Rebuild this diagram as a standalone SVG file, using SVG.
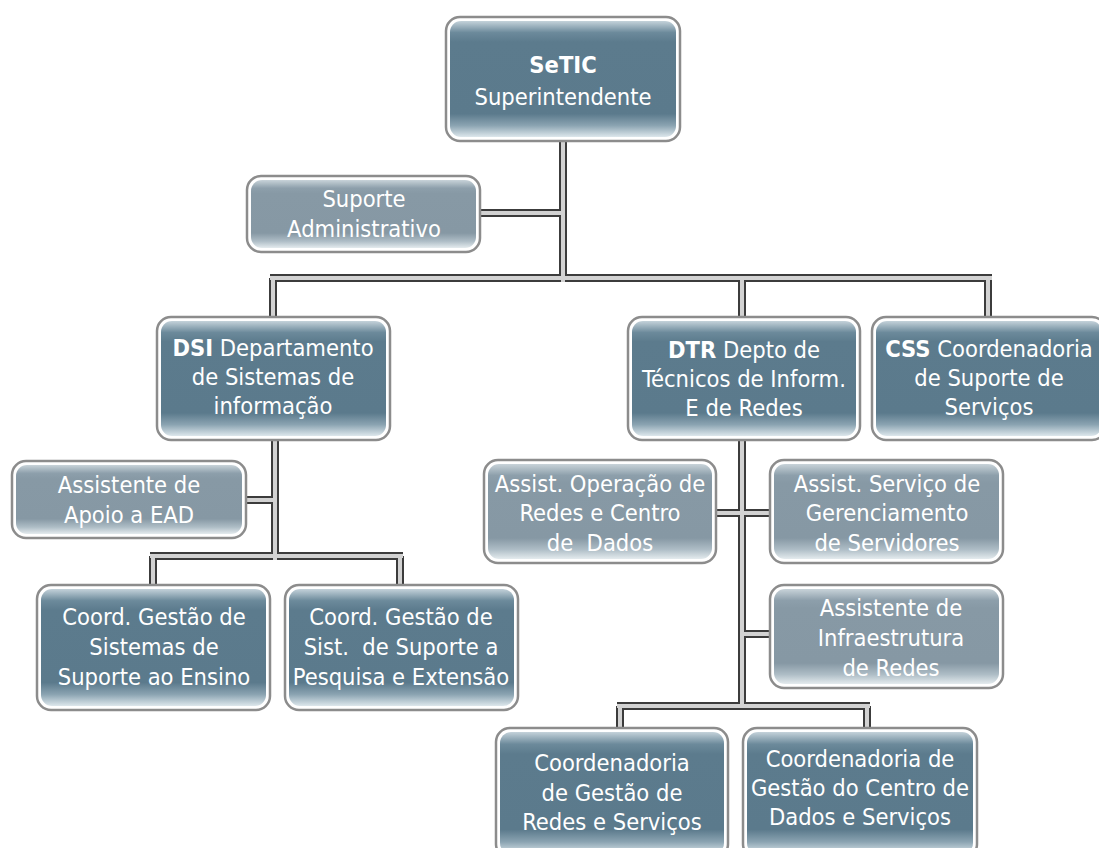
<svg xmlns="http://www.w3.org/2000/svg" width="1099" height="848" viewBox="0 0 1099 848">
<defs>
<linearGradient id="gDark" x1="0" y1="0" x2="0" y2="1">
<stop offset="0" stop-color="#c4d2da"/>
<stop offset="0.1" stop-color="#6c8a9b"/>
<stop offset="0.18" stop-color="#5c7b8d"/>
<stop offset="0.8" stop-color="#5b7a8c"/>
<stop offset="0.9" stop-color="#8aa3b1"/>
<stop offset="1" stop-color="#dde7ec"/>
</linearGradient>
<linearGradient id="gLight" x1="0" y1="0" x2="0" y2="1">
<stop offset="0" stop-color="#c8d3d9"/>
<stop offset="0.12" stop-color="#8d9fab"/>
<stop offset="0.2" stop-color="#8799a5"/>
<stop offset="0.78" stop-color="#8698a4"/>
<stop offset="0.9" stop-color="#aebdc6"/>
<stop offset="1" stop-color="#e4ebee"/>
</linearGradient>
<style>
.frame{fill:#ffffff;stroke:#8c8c8c;stroke-width:2.5}
.dark{fill:url(#gDark)}
.light{fill:url(#gLight)}
text{font-family:"DejaVu Sans Condensed","Liberation Sans",Arial,sans-serif;font-stretch:condensed;font-size:23.5px;fill:#ffffff;text-anchor:middle}
.b{font-weight:bold}
.pipeO{stroke:#3c3c3c;stroke-width:8;fill:none;stroke-linecap:butt}
.pipeI{stroke:#d2d2d2;stroke-width:4;fill:none;stroke-linecap:butt}
</style>
</defs>
<g id="connectors">
<g class="pipeO">
<path d="M563 141V282M480 213H563M270 278H992M273 278V318M742 278V318M988 278V318M275 440V560M246 500H275M150 556H403M153 556V586M400 556V586M742 440V706M716 513H742M742 513H770M742 634H770M617 706H870M620 706V728M867 706V728"/>
</g>
<g class="pipeI">
<path d="M563 141V282M480 213H563M270 278H992M273 278V318M742 278V318M988 278V318M275 440V560M246 500H275M150 556H403M153 556V586M400 556V586M742 440V706M716 513H742M742 513H770M742 634H770M617 706H870M620 706V728M867 706V728"/>
</g>
</g>
<g id="setic">
<rect class="frame" x="446" y="17" width="234" height="124" rx="14"/>
<rect class="dark" x="450" y="21" width="226" height="116" rx="11"/>
<text x="563" y="73" class="b">SeTIC</text>
<text x="563" y="105">Superintendente</text>
</g>
<g id="suporte-adm">
<rect class="frame" x="247" y="176" width="233" height="76" rx="14"/>
<rect class="light" x="251" y="180" width="225" height="68" rx="11"/>
<text x="364" y="207">Suporte</text>
<text x="364" y="237">Administrativo</text>
</g>
<g id="dsi">
<rect class="frame" x="157" y="317" width="233" height="123" rx="14"/>
<rect class="dark" x="161" y="321" width="225" height="115" rx="11"/>
<text x="273" y="356"><tspan class="b">DSI</tspan> Departamento</text>
<text x="273" y="385">de Sistemas de</text>
<text x="273" y="414">informação</text>
</g>
<g id="dtr">
<rect class="frame" x="628" y="317" width="232" height="123" rx="14"/>
<rect class="dark" x="632" y="321" width="224" height="115" rx="11"/>
<text x="744" y="358"><tspan class="b">DTR</tspan> Depto de</text>
<text x="744" y="387">Técnicos de Inform.</text>
<text x="744" y="416">E de Redes</text>
</g>
<g id="css">
<rect class="frame" x="872" y="317" width="234" height="123" rx="14"/>
<rect class="dark" x="876" y="321" width="226" height="115" rx="11"/>
<text x="989" y="357"><tspan class="b">CSS</tspan> Coordenadoria</text>
<text x="989" y="386">de Suporte de</text>
<text x="989" y="415">Serviços</text>
</g>
<g id="assist-ead">
<rect class="frame" x="12" y="461" width="234" height="77" rx="14"/>
<rect class="light" x="16" y="465" width="226" height="69" rx="11"/>
<text x="129" y="493">Assistente de</text>
<text x="129" y="523">Apoio a EAD</text>
</g>
<g id="coord-sistemas">
<rect class="frame" x="37" y="585" width="233" height="125" rx="14"/>
<rect class="dark" x="41" y="589" width="225" height="117" rx="11"/>
<text x="154" y="625">Coord. Gestão de</text>
<text x="154" y="655">Sistemas de</text>
<text x="154" y="685">Suporte ao Ensino</text>
</g>
<g id="coord-pesquisa">
<rect class="frame" x="285" y="585" width="233" height="125" rx="14"/>
<rect class="dark" x="289" y="589" width="225" height="117" rx="11"/>
<text x="401" y="625">Coord. Gestão de</text>
<text x="401" y="655" xml:space="preserve">Sist.  de Suporte a</text>
<text x="401" y="685">Pesquisa e Extensão</text>
</g>
<g id="assist-operacao">
<rect class="frame" x="484" y="460" width="232" height="103" rx="14"/>
<rect class="light" x="488" y="464" width="224" height="95" rx="11"/>
<text x="600" y="492">Assist. Operação de</text>
<text x="600" y="521">Redes e Centro</text>
<text x="600" y="551" xml:space="preserve">de  Dados</text>
</g>
<g id="assist-servico">
<rect class="frame" x="770" y="460" width="233" height="103" rx="14"/>
<rect class="light" x="774" y="464" width="225" height="95" rx="11"/>
<text x="887" y="492">Assist. Serviço de</text>
<text x="887" y="521">Gerenciamento</text>
<text x="887" y="551">de Servidores</text>
</g>
<g id="assist-infra">
<rect class="frame" x="770" y="585" width="233" height="103" rx="14"/>
<rect class="light" x="774" y="589" width="225" height="95" rx="11"/>
<text x="891" y="616">Assistente de</text>
<text x="891" y="646">Infraestrutura</text>
<text x="891" y="676">de Redes</text>
</g>
<g id="coord-redes">
<rect class="frame" x="496" y="728" width="232" height="130" rx="14"/>
<rect class="dark" x="500" y="732" width="224" height="122" rx="11"/>
<text x="612" y="771">Coordenadoria</text>
<text x="612" y="801">de Gestão de</text>
<text x="612" y="830">Redes e Serviços</text>
</g>
<g id="coord-centro">
<rect class="frame" x="743" y="728" width="234" height="130" rx="14"/>
<rect class="dark" x="747" y="732" width="226" height="122" rx="11"/>
<text x="860" y="767">Coordenadoria de</text>
<text x="860" y="796">Gestão do Centro de</text>
<text x="860" y="825">Dados e Serviços</text>
</g>
</svg>
